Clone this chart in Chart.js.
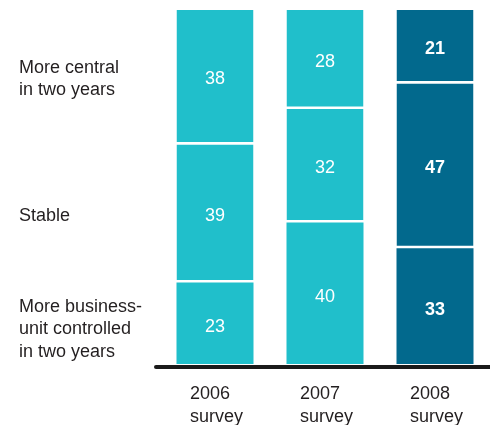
<!DOCTYPE html>
<html>
<head>
<meta charset="utf-8">
<script src="https://cdn.jsdelivr.net/npm/chart.js@4"></script>
<style>
  html, body { margin: 0; padding: 0; background: #fff; }
  #wrap { width: 490px; height: 425px; }
</style>
</head>
<body>
<div id="wrap"><canvas id="surveyChart"></canvas></div>
<script>
const categories = [['2006', 'survey'], ['2007', 'survey'], ['2008', 'survey']];
const businessUnit = [23, 40, 33];
const stable = [39, 32, 47];
const central = [38, 28, 21];
const rowLabels = [
  ['More business-', 'unit controlled', 'in two years'],
  ['Stable'],
  ['More central', 'in two years']
];

const cyan = '#20bfcb';
const navy = '#02698d';
const barColors = [cyan, cyan, navy];
const font = '"Liberation Sans", Arial, sans-serif';

// 2008 adds up to 101 (rounding), every bar is drawn as a full column
const totals = categories.map((c, i) => businessUnit[i] + stable[i] + central[i]);
const share = arr => arr.map((v, i) => v * 100 / totals[i]);

// row labels sit next to the middle of each 2006 segment (nudged like the original)
const rowTicks = [businessUnit[0] / 2 - 1.1, businessUnit[0] + stable[0] / 2, 100 - central[0] / 2];

const valueLabels = {
  id: 'valueLabels',
  afterDatasetsDraw(chart) {
    const ctx = chart.ctx;
    ctx.save();
    ctx.fillStyle = '#fff';
    ctx.textAlign = 'center';
    ctx.textBaseline = 'middle';
    chart.data.datasets.forEach((ds, di) => {
      const meta = chart.getDatasetMeta(di);
      meta.data.forEach((bar, i) => {
        const gap = di > 0 ? 2.5 : 0;
        const y = (bar.y + bar.base - gap) / 2 + 3.5;
        ctx.font = (i === 2 ? 'bold ' : '') + '18px ' + font;
        ctx.fillText(ds.raw[i], bar.x, y);
      });
    });
    // thick baseline
    const b = chart.chartArea.bottom + 3;
    ctx.strokeStyle = '#1a1a1a';
    ctx.lineWidth = 4;
    ctx.lineCap = 'round';
    ctx.beginPath();
    ctx.moveTo(156, b);
    ctx.lineTo(chart.width + 2, b);
    ctx.stroke();
    ctx.restore();
  }
};

const seg = { top: 0, left: 0, right: 0, bottom: 2.5 };

new Chart(document.getElementById('surveyChart'), {
  type: 'bar',
  data: {
    labels: categories,
    datasets: [
      { label: 'More business-unit controlled', data: share(businessUnit), raw: businessUnit, backgroundColor: barColors, borderWidth: 0 },
      { label: 'Stable', data: share(stable), raw: stable, backgroundColor: barColors, borderColor: '#fff', borderWidth: seg, borderSkipped: false },
      { label: 'More central', data: share(central), raw: central, backgroundColor: barColors, borderColor: '#fff', borderWidth: seg, borderSkipped: false }
    ]
  },
  options: {
    responsive: true,
    maintainAspectRatio: false,
    animation: false,
    layout: { padding: { left: 19, top: 10, right: 0, bottom: 0 } },
    datasets: { bar: { barPercentage: 0.7, categoryPercentage: 1 } },
    plugins: { legend: { display: false }, tooltip: { enabled: false } },
    scales: {
      x: {
        stacked: true,
        grid: { display: false, drawTicks: false },
        border: { display: false },
        ticks: {
          color: '#231f20',
          font: { family: font, size: 18, lineHeight: 1.3 },
          padding: 18,
          maxRotation: 0,
          align: 'start',
          labelOffset: -25
        },
        afterFit(scale) { scale.height = 61; scale.paddingLeft = 0; scale.paddingRight = 0; }
      },
      y: {
        stacked: true,
        min: 0,
        max: 100,
        grid: { display: false, drawTicks: false },
        border: { display: false },
        afterBuildTicks(scale) { scale.ticks = rowTicks.map(v => ({ value: v })); },
        afterFit(scale) { scale.width = 141; scale.paddingTop = 0; scale.paddingBottom = 0; },
        ticks: {
          crossAlign: 'far',
          color: '#231f20',
          labelOffset: 2,
          font: { family: font, size: 18, lineHeight: 1.25 },
          callback: (v, i) => rowLabels[i]
        }
      }
    }
  },
  plugins: [valueLabels]
});
</script>
</body>
</html>
